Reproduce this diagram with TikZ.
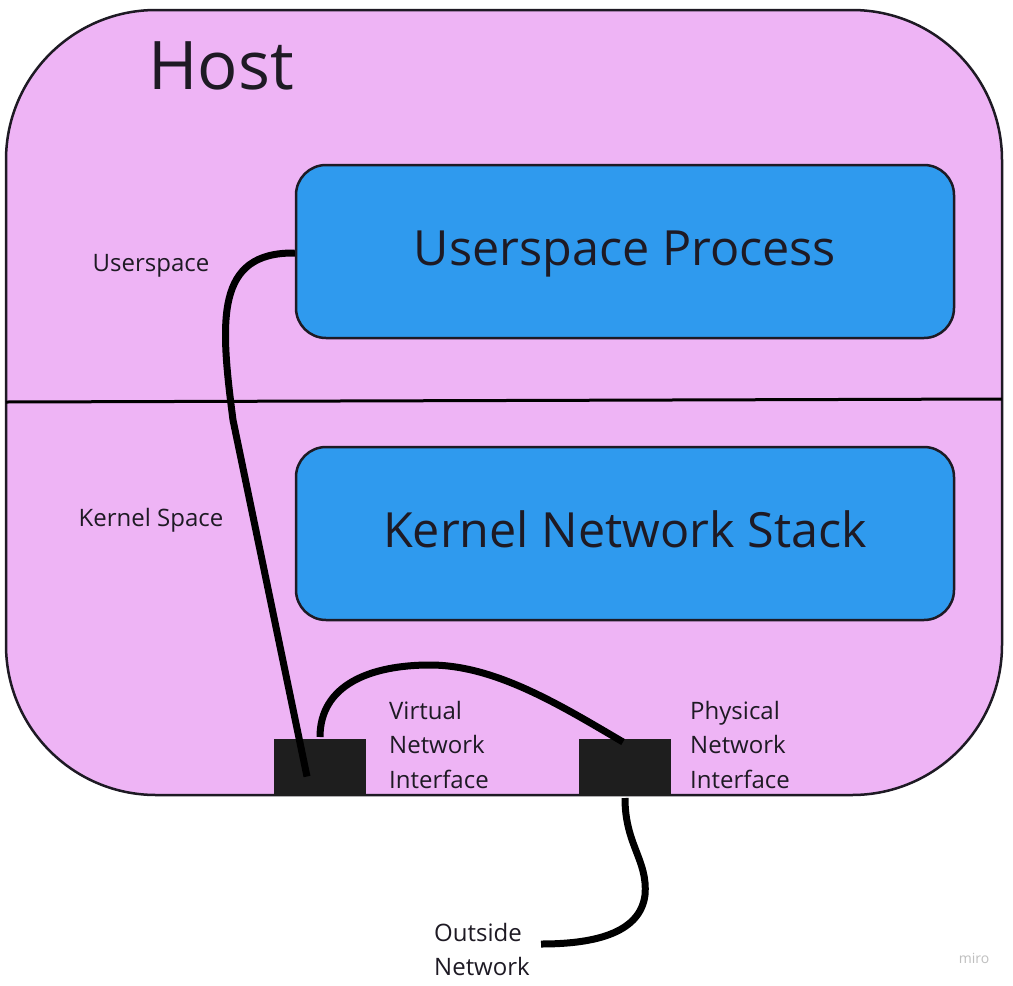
\documentclass[tikz,border=0pt]{standalone}
\usepackage{fontspec}
\setmainfont{Open Sans}
\definecolor{hostpink}{HTML}{EEB4F5}
\definecolor{procblue}{HTML}{2F9AEE}
\definecolor{edge}{HTML}{1E1A24}
\definecolor{nicblack}{HTML}{1E1E1E}
\begin{document}
\begin{tikzpicture}[x=1pt,y=-1pt,
  proc/.style={draw=edge,line width=2.5pt,fill=procblue,rounded corners=30pt,minimum width=658pt,minimum height=173pt},
  proctext/.style={font=\fontsize{48.5}{58}\selectfont,text=edge,anchor=base},
  nic/.style={fill=nicblack,minimum width=92pt,minimum height=57pt,inner sep=0pt},
  lbl/.style={font=\fontsize{24}{34.5}\selectfont,text=edge,align=left,inner sep=0pt},
  wire/.style={line width=7pt,black}]
\useasboundingbox (0,0) rectangle (1013,986);
\fill[white] (0,0) rectangle (1013,986);
% host
\draw[draw=edge,line width=2.5pt,fill=hostpink,rounded corners=150pt] (6,10) rectangle (1002,795);
\node[font=\fontsize{67}{80}\selectfont,text=edge,anchor=base] (host) at (221,89) {Host};
\coordinate (sepL) at (6,402);
\coordinate (sepR) at (1002,399);
\draw[line width=3pt,black] (sepL) -- (sepR);
\node[proc] (up) at (625,251.5) {};
\node[proctext] (uptext) at (625,265) {Userspace Process};
\node[proc] (kns) at (625,533.5) {};
\node[proctext] (knstext) at (625,547) {Kernel Network Stack};
\node[lbl] (us) at (151,266) {Userspace};
\node[lbl] (ks) at (151,520) {Kernel Space};
\node[nic] (vnic) at (320,767.5) {};
\node[nic] (pnic) at (625,767.5) {};
\node[lbl,anchor=north west] (vlbl) at (389,701) {Virtual\\Network\\Interface};
\node[lbl,anchor=north west] (plbl) at (690,701) {Physical\\Network\\Interface};
\node[lbl,anchor=north west] (out) at (434,923) {Outside\\Network};
\node[font=\fontsize{14}{16}\selectfont,text=black!25] (miro) at (974,958) {miro};
% wires
\draw[wire] ([yshift=-1.5pt]up.west) .. controls (215,252) and (220,320) .. (233,420) -- ([xshift=-13pt,yshift=-9pt]vnic.center);
\draw[wire] (320,737) .. controls (320,685) and (370,665) .. (430,665) .. controls (495,665) and (560,705) .. (623,742);
\draw[wire] (625,798) .. controls (625,845) and (648,860) .. (645,895) .. controls (640,935) and (590,944) .. (541,944);
\end{tikzpicture}
\end{document}
